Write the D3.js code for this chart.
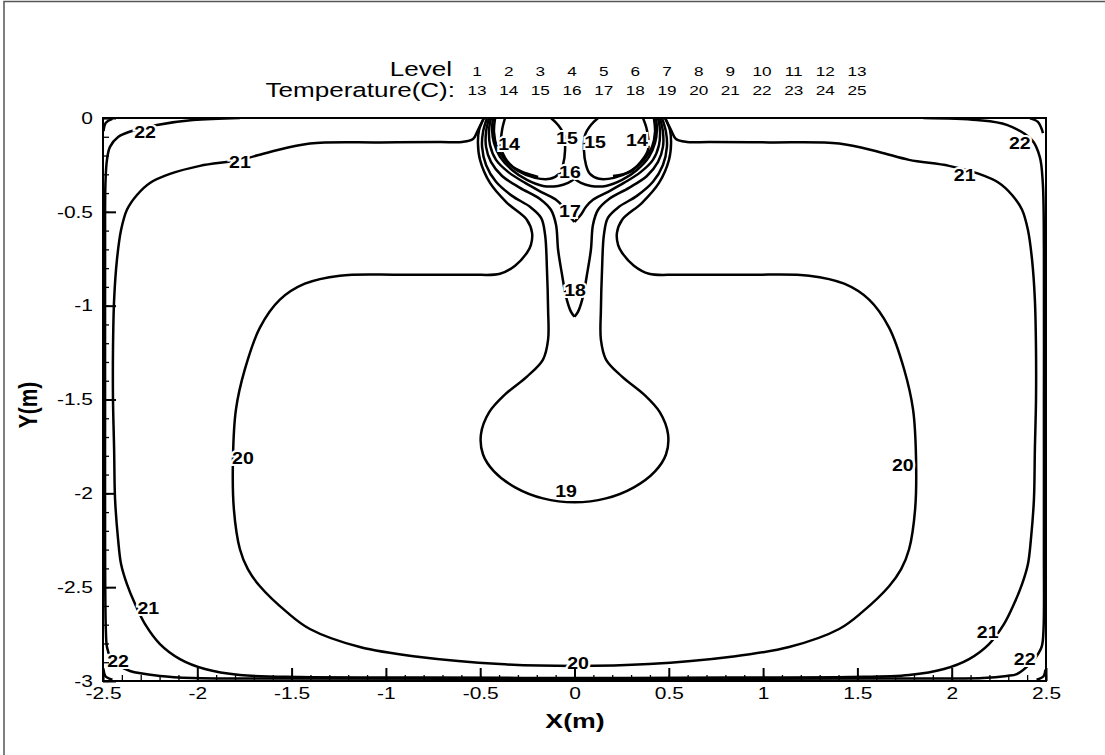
<!DOCTYPE html>
<html><head><meta charset="utf-8">
<script src="https://cdn.jsdelivr.net/npm/d3@7"></script>
<style>
html,body{margin:0;padding:0;background:#fff;}
svg text{font-family:"Liberation Sans",Arial,sans-serif;}
</style></head>
<body><svg id="chart" width="1105" height="755"></svg>
<script>
// ---------- data ----------
const levels = [1,2,3,4,5,6,7,8,9,10,11,12,13];
const temps = [13,14,15,16,17,18,19,20,21,22,23,24,25];
const xTicks = [-2.5,-2,-1.5,-1,-0.5,0,0.5,1,1.5,2,2.5];
const xTickLabels = ["-2.5","-2","-1.5","-1","-0.5","0","0.5","1","1.5","2","2.5"];
const yTicks = [0,-0.5,-1,-1.5,-2,-2.5,-3];
const yTickLabels = ["0","-0.5","-1","-1.5","-2","-2.5","-3"];

// contour lines, [x (m), y (m)]
const c22 = [[-1.774,0],[-2.023,-0.011],[-2.214,-0.037],[-2.346,-0.069],[-2.420,-0.101],[-2.463,-0.154],[-2.479,-0.223],[-2.487,-0.346],[-2.489,-0.702],[-2.489,-1.5],[-2.489,-2.298],[-2.485,-2.723],[-2.479,-2.819],[-2.463,-2.867],[-2.420,-2.915],[-2.357,-2.947],[-2.198,-2.973],[-2.023,-2.984],[-1.668,-2.987],[0,-2.988],
  [1.668,-2.987],[2.165,-2.984],[2.292,-2.973],[2.345,-2.963],[2.425,-2.899],[2.451,-2.867],[2.478,-2.814],[2.487,-2.723],[2.489,-2.298],[2.489,-1.5],[2.489,-0.702],[2.483,-0.346],[2.467,-0.207],[2.425,-0.117],[2.292,-0.037],[2.133,-0.011],[1.85,0]];
const c23TL = [[-2.497,-0.07],[-2.485,-0.025],[-2.45,-0.005]];
const c23TR = [[2.415,-0.002],[2.457,-0.021],[2.484,-0.080]];
const c23BL = [[-2.497,-2.94],[-2.487,-2.975],[-2.45,-2.993]];
const c23BR = [[2.45,-2.993],[2.487,-2.975],[2.497,-2.94]];
const c21 = [[-0.480,0],[-0.512,-0.064],[-0.538,-0.112],[-0.596,-0.128],[-0.713,-0.128],[-1.032,-0.130],[-1.403,-0.136],[-1.615,-0.181],[-1.774,-0.223],[-1.986,-0.255],[-2.145,-0.298],[-2.251,-0.346],[-2.320,-0.410],[-2.373,-0.489],[-2.404,-0.596],[-2.426,-0.755],[-2.441,-0.968],[-2.447,-1.234],[-2.447,-1.500],[-2.441,-1.766],[-2.436,-2.032],[-2.420,-2.245],[-2.404,-2.378],[-2.373,-2.484],[-2.330,-2.590],[-2.277,-2.697],[-2.198,-2.803],[-2.092,-2.883],[-1.959,-2.936],[-1.774,-2.968],[-1.456,-2.979],[-0.820,-2.981],[0,-2.984],
  [0.820,-2.981],[1.456,-2.979],[1.774,-2.968],[1.959,-2.936],[2.092,-2.883],[2.198,-2.803],[2.277,-2.697],[2.330,-2.590],[2.373,-2.484],[2.404,-2.378],[2.420,-2.245],[2.436,-2.032],[2.441,-1.766],[2.447,-1.500],[2.447,-1.234],[2.441,-0.968],[2.426,-0.755],[2.404,-0.596],[2.373,-0.489],[2.320,-0.410],[2.251,-0.346],[2.145,-0.298],[1.986,-0.255],[1.774,-0.223],[1.615,-0.181],[1.403,-0.136],[1.032,-0.130],[0.713,-0.128],[0.596,-0.128],[0.538,-0.112],[0.512,-0.064],[0.480,0]];
const c20 = [[-0.480,0],[-0.506,-0.064],[-0.512,-0.133],[-0.501,-0.223],[-0.448,-0.346],[-0.358,-0.452],[-0.252,-0.543],[-0.225,-0.612],[-0.231,-0.676],[-0.252,-0.718],[-0.315,-0.787],[-0.395,-0.830],[-0.554,-0.835],[-0.926,-0.835],[-1.244,-0.840],[-1.430,-0.883],[-1.562,-0.968],[-1.668,-1.117],[-1.748,-1.340],[-1.795,-1.553],[-1.811,-1.819],[-1.806,-2.085],[-1.774,-2.298],[-1.732,-2.404],[-1.668,-2.495],[-1.525,-2.633],[-1.403,-2.723],[-1.138,-2.819],[-0.820,-2.872],[-0.395,-2.910],[0,-2.920],
  [0.395,-2.910],[0.820,-2.872],[1.138,-2.819],[1.403,-2.723],[1.525,-2.633],[1.668,-2.495],[1.732,-2.404],[1.774,-2.298],[1.806,-2.085],[1.811,-1.819],[1.795,-1.553],[1.748,-1.340],[1.668,-1.117],[1.562,-0.968],[1.430,-0.883],[1.244,-0.840],[0.926,-0.835],[0.554,-0.835],[0.395,-0.830],[0.315,-0.787],[0.252,-0.718],[0.231,-0.676],[0.225,-0.612],[0.252,-0.543],[0.358,-0.452],[0.448,-0.346],[0.501,-0.223],[0.512,-0.133],[0.506,-0.064],[0.480,0]];
const c19 = [[-0.464,0],[-0.485,-0.074],[-0.490,-0.154],[-0.469,-0.250],[-0.416,-0.340],[-0.331,-0.415],[-0.236,-0.473],[-0.177,-0.532],[-0.156,-0.622],[-0.146,-0.809],[-0.140,-1.021],[-0.140,-1.181],[-0.167,-1.287],[-0.252,-1.378],[-0.368,-1.473],[-0.453,-1.569],[-0.496,-1.686],[-0.485,-1.793],[-0.427,-1.883],[-0.315,-1.968],[-0.167,-2.027],[0,-2.048],
  [0.167,-2.027],[0.315,-1.968],[0.427,-1.883],[0.485,-1.793],[0.496,-1.686],[0.453,-1.569],[0.368,-1.473],[0.252,-1.378],[0.167,-1.287],[0.140,-1.181],[0.140,-1.021],[0.146,-0.809],[0.156,-0.622],[0.177,-0.532],[0.236,-0.473],[0.331,-0.415],[0.416,-0.340],[0.469,-0.250],[0.490,-0.154],[0.485,-0.074],[0.464,0]];
const c18L = [[-0.453,0],[-0.469,-0.074],[-0.469,-0.154],[-0.443,-0.234],[-0.384,-0.309],[-0.289,-0.372],[-0.183,-0.431],[-0.125,-0.489],[-0.098,-0.569],[-0.087,-0.702],[-0.066,-0.835],[-0.045,-0.952],[-0.019,-1.032],[0,-1.059]];
const c18R = [[0.453,0],[0.469,-0.074],[0.469,-0.154],[0.443,-0.234],[0.384,-0.309],[0.289,-0.372],[0.183,-0.431],[0.125,-0.489],[0.098,-0.569],[0.087,-0.702],[0.066,-0.835],[0.045,-0.952],[0.019,-1.032],[0,-1.059]];
const c17L = [[-0.443,0],[-0.453,-0.064],[-0.448,-0.144],[-0.416,-0.223],[-0.352,-0.287],[-0.262,-0.346],[-0.167,-0.399],[-0.098,-0.436],[-0.061,-0.473],[-0.034,-0.516],[0,-0.553]];
const c17R = [[0.443,0],[0.453,-0.064],[0.448,-0.144],[0.416,-0.223],[0.352,-0.287],[0.262,-0.346],[0.167,-0.399],[0.098,-0.436],[0.061,-0.473],[0.034,-0.516],[0,-0.553]];
const c16L = [[-0.432,0],[-0.437,-0.064],[-0.427,-0.133],[-0.395,-0.207],[-0.331,-0.277],[-0.252,-0.330],[-0.167,-0.362],[-0.087,-0.362],[-0.034,-0.346],[0,-0.324]];
const c16R = [[0.432,0],[0.437,-0.064],[0.427,-0.133],[0.395,-0.207],[0.331,-0.277],[0.252,-0.330],[0.167,-0.362],[0.087,-0.362],[0.034,-0.346],[0,-0.324]];
const c15L = [[-0.421,0],[-0.427,-0.074],[-0.411,-0.154],[-0.368,-0.223],[-0.299,-0.282],[-0.209,-0.319],[-0.130,-0.324],[-0.082,-0.298],[-0.061,-0.250],[-0.050,-0.170],[-0.056,-0.090],[-0.087,-0.037],[-0.125,0]];
const c15R = [[0.125,0],[0.087,-0.037],[0.056,-0.090],[0.050,-0.170],[0.061,-0.250],[0.082,-0.298],[0.130,-0.324],[0.209,-0.319],[0.299,-0.282],[0.368,-0.223],[0.411,-0.154],[0.427,-0.074],[0.421,0]];
const c14L = [[-0.368,0],[-0.384,-0.064],[-0.390,-0.154],[-0.368,-0.213],[-0.326,-0.261],[-0.262,-0.293],[-0.193,-0.314]];
const c14R = [[0.363,0],[0.384,-0.064],[0.390,-0.170],[0.347,-0.239],[0.294,-0.287],[0.204,-0.309]];

const contourLines = [c22,c23TL,c23TR,c23BL,c23BR,c21,c20,c19,c18L,c18R,c17L,c17R,c16L,c16R,c15L,c15R,c14L,c14R];

// contour labels: text, x, y
const labelText = ["22","22","22","22","21","21","21","21","20","20","20","19","18","17","16","15","15","14","14"];
const labelX = [-2.277,2.361,-2.420,2.387,-1.774,2.069,-2.260,2.191,-1.758,1.741,0.019,-0.045,0.003,-0.024,-0.024,-0.040,0.109,-0.347,0.331];
const labelY = [-0.074,-0.133,-2.894,-2.883,-0.234,-0.303,-2.612,-2.739,-1.814,-1.851,-2.904,-1.989,-0.915,-0.495,-0.287,-0.106,-0.128,-0.138,-0.117];

// ---------- drawing ----------
const svg = d3.select("#chart");
const SX = 1.27; // horizontal text stretch seen in the original

// frame
svg.append("path").attr("d","M4,755V1.5H1105").attr("fill","none").attr("stroke","#555").attr("stroke-width",1.5);

const x = d3.scaleLinear().domain([-2.5,2.5]).range([103,1046]);
const y = d3.scaleLinear().domain([-3,0]).range([681,118]);

const line = d3.line().x(d=>x(d[0])).y(d=>y(d[1])).curve(d3.curveCatmullRom.alpha(0.5));

svg.append("defs").append("clipPath").attr("id","clip")
  .append("rect").attr("x",103).attr("y",118).attr("width",943).attr("height",563);

const gc = svg.append("g").attr("clip-path","url(#clip)");
gc.selectAll("path.c").data(contourLines).join("path").attr("class","c")
  .attr("d",line).attr("fill","none").attr("stroke","#000").attr("stroke-width",2.5).attr("stroke-linejoin","round");

// labels
const lab = gc.selectAll("g.lab").data(labelText.map((t,i)=>({t, x:labelX[i], y:labelY[i]}))).join("g").attr("class","lab")
  .attr("transform",d=>`translate(${x(d.x)},${y(d.y)}) scale(1.15,1)`);
lab.append("text").attr("text-anchor","middle").attr("dominant-baseline","central")
  .attr("font-size",17).attr("font-weight","bold")
  .attr("stroke","#fff").attr("stroke-width",4).attr("paint-order","stroke").attr("fill","#000")
  .text(d=>d.t);

// axes
const xAxis = d3.axisBottom(x).tickValues(xTicks).tickFormat((d,i)=>xTickLabels[i]).tickSizeInner(-13).tickSizeOuter(0).tickPadding(6);
const gx = svg.append("g").attr("transform","translate(0,681)").call(xAxis);
const xMinor = d3.axisBottom(x).ticks(50).tickFormat("").tickSizeInner(-6).tickSizeOuter(0);
svg.append("g").attr("transform","translate(0,681)").call(xMinor).select(".domain").remove();

const yAxis = d3.axisLeft(y).tickValues(yTicks).tickFormat((d,i)=>yTickLabels[i]).tickSizeInner(-13).tickSizeOuter(0).tickPadding(10);
const gy = svg.append("g").attr("transform","translate(103,0)").call(yAxis);
const yMinor = d3.axisLeft(y).ticks(30).tickFormat("").tickSizeInner(-6).tickSizeOuter(0);
svg.append("g").attr("transform","translate(103,0)").call(yMinor).select(".domain").remove();

svg.selectAll(".tick line").attr("stroke","#000").attr("stroke-width",1.3);
gx.selectAll(".tick line").attr("stroke-width",2);
gy.selectAll(".tick line").attr("stroke-width",2);
gx.select(".domain").remove(); gy.select(".domain").remove();
gx.selectAll("text").attr("font-size",16.5).attr("font-family","Liberation Sans, Arial").attr("fill","#000")
  .attr("transform",`scale(${SX},1)`);
gy.selectAll("text").attr("font-size",16.5).attr("font-family","Liberation Sans, Arial").attr("fill","#000")
  .attr("x",-10/SX).attr("transform",`scale(${SX},1)`);

// box
svg.append("rect").attr("x",x(-2.5)).attr("y",y(0)).attr("width",x(2.5)-x(-2.5)).attr("height",y(-3)-y(0))
  .attr("fill","none").attr("stroke","#000").attr("stroke-width",2);

// titles
function stext(str, px, py, size, anchor, weight, extra){
  return svg.append("text").attr("transform",`translate(${px},${py}) scale(${SX},1)` + (extra||""))
    .attr("text-anchor",anchor).attr("font-size",size).attr("font-weight",weight||"normal").attr("fill","#000").text(str);
}
stext("X(m)", 575, 728, 21, "middle", "bold");
stext("Y(m)", 37, 405, 21, "middle", "bold", " rotate(-90)");

// legend
stext("Level", 452, 76, 20.5, "end");
stext("Temperature(C):", 455, 97, 20.5, "end");
const lx = d3.scalePoint().domain(levels).range([477,857]);
levels.forEach((l,i)=>{
  stext(String(l), lx(l), 76, 13.5, "middle");
  stext(String(temps[i]), lx(l), 95, 13.5, "middle");
});
</script></body></html>
